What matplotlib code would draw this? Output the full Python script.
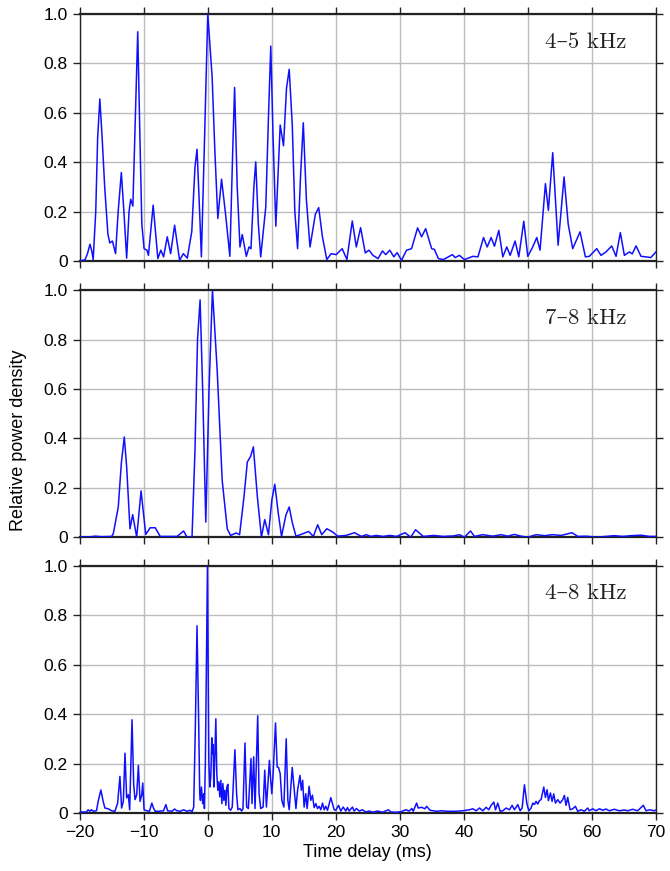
import matplotlib
matplotlib.use("Agg")
import matplotlib.pyplot as plt

# panel 1: 4-5 kHz
t_45 = [-20.0, -19.2, -18.8, -18.4, -18.1, -17.9, -17.5, -17.2, -16.86, -16.5, -16.1, -15.6, -15.3,
        -14.9, -14.4, -14.0, -13.5, -13.1, -12.67, -12.3, -12.04, -11.7, -11.4, -10.94, -10.6, -10.3,
        -9.95, -9.5, -9.27, -8.53, -7.8, -7.33, -6.9, -6.33, -5.8, -5.18, -4.4, -3.82, -3.2, -2.5,
        -2.0, -1.68, -1.35, -1.0, -0.5, 0.0, 0.68, 1.1, 1.57, 2.15, 2.77, 3.45, 3.9, 4.19, 4.6, 5.03,
        5.39, 6.02, 6.44, 6.75, 7.2, 7.49, 7.9, 8.27, 9.06, 9.5, 9.84, 10.2, 10.63, 11.31, 11.83,
        12.3, 12.72, 13.2, 13.6, 14.03, 14.5, 14.92, 15.4, 15.97, 16.8, 17.33, 17.9, 18.59, 19.27,
        20.05, 21.0, 21.73, 22.57, 23.2, 23.87, 24.6, 25.18, 25.8, 26.6, 27.28, 27.8, 28.43, 29.06,
        29.58, 30.26, 31.05, 31.83, 32.77, 33.4, 34.03, 34.97, 35.4, 36.02, 36.8, 38.22, 38.64,
        39.3, 40.1, 41.4, 42.2, 43.07, 43.64, 44.26, 44.78, 45.46, 46.08, 46.7, 47.23, 48.0, 48.58,
        49.36, 49.98, 50.7, 51.39, 51.9, 52.74, 53.2, 53.88, 54.72, 55.65, 56.3, 57.0, 58.15, 58.98,
        59.6, 60.75, 61.42, 62.2, 63.1, 63.77, 64.44, 65.07, 65.85, 66.3, 66.9, 67.67, 68.44, 69.2,
        70.0]
p_45 = [0.003, 0.005, 0.03, 0.069, 0.04, 0.007, 0.2, 0.5, 0.656, 0.5, 0.3, 0.11, 0.074,
        0.082, 0.031, 0.2, 0.359, 0.2, 0.013, 0.2, 0.251, 0.223, 0.5, 0.928, 0.5, 0.15,
        0.051, 0.045, 0.024, 0.227, 0.011, 0.045, 0.018, 0.099, 0.031, 0.146, 0.004, 0.031, 0.013, 0.12,
        0.38, 0.453, 0.25, 0.018, 0.5, 1.0, 0.746, 0.45, 0.173, 0.332, 0.193, 0.02, 0.45, 0.703, 0.3, 0.058,
        0.108, 0.02, 0.058, 0.051, 0.3, 0.402, 0.15, 0.018, 0.22, 0.6, 0.87, 0.5, 0.142, 0.551, 0.467,
        0.7, 0.776, 0.55, 0.2, 0.051, 0.35, 0.56, 0.25, 0.058, 0.19, 0.217, 0.1, 0.007, 0.031,
        0.027, 0.051, 0.007, 0.163, 0.058, 0.136, 0.034, 0.045, 0.024, 0.011, 0.042, 0.027, 0.045, 0.018,
        0.035, 0.004, 0.045, 0.051, 0.135, 0.099, 0.132, 0.051, 0.048, 0.011, 0.007, 0.027, 0.015,
        0.024, 0.007, 0.02, 0.018, 0.096, 0.058, 0.096, 0.061, 0.125, 0.018, 0.058, 0.024, 0.082, 0.018,
        0.162, 0.02, 0.055, 0.096, 0.045, 0.314, 0.206, 0.439, 0.065, 0.341, 0.15, 0.051, 0.119, 0.018,
        0.02, 0.051, 0.024, 0.038, 0.062, 0.02, 0.116, 0.024, 0.038, 0.03, 0.062, 0.02, 0.018, 0.015,
        0.038]

# panel 2: 7-8 kHz
t_78 = [-20.0, -18.5, -17.6, -16.6, -15.0, -14.76, -13.98, -13.5, -13.04, -12.67, -12.15, -11.73,
        -11.1, -10.42, -9.69, -9.0, -8.2, -7.43, -6.1, -4.8, -3.77, -3.25, -2.46, -2.0, -1.6, -1.2,
        -0.8, -0.31, 0.2, 0.73, 1.47, 2.25, 3.04, 3.56, 4.45, 4.97, 5.65, 6.18, 6.7, 7.12, 7.75,
        8.38, 8.9, 9.48, 10.0, 10.47, 11.0, 11.52, 12.2, 12.72, 13.2, 13.77, 14.55, 15.76, 16.49,
        17.17, 17.8, 18.6, 19.5, 20.3, 21.6, 22.93, 23.98, 24.76, 25.5, 26.3, 27.38, 28.43, 29.5,
        30.8, 31.7, 32.46, 33.66, 35.24, 36.8, 38.4, 39.3, 40.1, 41.04, 41.66, 42.96, 44.5, 45.8,
        46.86, 47.9, 48.94, 50.0, 51.3, 52.6, 53.9, 55.2, 56.9, 57.8, 59.1, 60.65, 62.2, 63.5,
        64.8, 66.1, 67.66, 68.97, 70.0]
p_78 = [0.002, 0.002, 0.005, 0.003, 0.004, 0.015, 0.123, 0.3, 0.406, 0.285, 0.035, 0.092,
        0.001, 0.188, 0.012, 0.039, 0.039, 0.004, 0.004, 0.004, 0.026, 0.001, 0.002, 0.35, 0.8, 0.96,
        0.6, 0.062, 0.6, 1.0, 0.676, 0.231, 0.035, 0.008, 0.018, 0.011, 0.163, 0.305, 0.328, 0.366, 0.163,
        0.001, 0.072, 0.011, 0.15, 0.215, 0.1, 0.004, 0.09, 0.123, 0.06, 0.005, 0.012, 0.024, 0.004,
        0.051, 0.011, 0.035, 0.022, 0.005, 0.008, 0.019, 0.004, 0.011, 0.004, 0.008, 0.004, 0.008, 0.004,
        0.019, 0.001, 0.031, 0.004, 0.008, 0.004, 0.006, 0.011, 0.001, 0.026, 0.004, 0.011, 0.005, 0.011,
        0.005, 0.012, 0.005, 0.001, 0.011, 0.007, 0.011, 0.008, 0.019, 0.004, 0.005, 0.001, 0.004, 0.007,
        0.004, 0.007, 0.009, 0.004, 0.004]

# panel 3: 4-8 kHz
t_48 = [-20.0, -18.95, -18.69, -18.43, -18.17, -17.91, -17.38, -17.12, -16.7, -16.34, -16.07, -15.55,
        -15.03, -14.5, -14.08, -13.72, -13.46, -13.19, -12.93, -12.67, -12.41, -12.2, -11.83, -11.57,
        -11.36, -11.1, -10.84, -10.58, -10.31, -10.16, -9.95, -9.53, -9.11, -8.74, -8.48, -8.22, -7.7,
        -6.91, -6.54, -6.28, -5.6, -5.18, -4.82, -4.29, -3.77, -3.25, -2.72,
        -2.46, -2.2, -1.94, -1.68, -1.41, -1.26, -1.15, -0.99, -0.79, -0.63, -0.52, -0.37, -0.05, 0.16,
        0.31, 0.47, 0.63, 0.73, 0.84, 0.94, 1.05, 1.26, 1.41, 1.57, 1.73, 1.88, 2.04, 2.2, 2.36, 2.51,
        2.67, 2.83, 2.98, 3.14, 3.3, 3.56, 3.82, 4.24, 4.5, 4.71, 5.03, 5.29, 5.5, 5.81, 6.07, 6.34,
        6.75, 6.91, 7.17, 7.38, 7.8, 8.01, 8.27, 8.64, 8.9, 9.16, 9.63, 9.79, 10.0, 10.21, 10.58, 10.84,
        11.05, 11.31, 11.57, 11.88, 12.25, 12.51, 12.72, 13.19, 13.51, 13.77, 14.03, 14.4, 14.61, 14.82,
        15.05, 15.31, 15.52, 15.83, 16.09, 16.35, 16.61, 16.88, 17.14, 17.4, 17.66, 17.92, 18.18, 18.44,
        18.7, 19.22, 19.48, 19.74, 20.0, 20.42, 20.78, 21.15, 21.56, 21.82, 22.08, 22.6, 22.86, 23.23,
        23.65, 24.17, 24.69, 25.21, 25.73, 26.51, 27.29, 28.23, 28.59, 29.38, 30.16, 30.94, 31.46, 31.88,
        32.09, 32.62, 32.88, 33.4, 33.93, 34.19, 34.71, 35.24, 35.76, 36.54, 37.33,
        38.8, 39.84, 40.88, 41.4, 41.92, 42.44, 42.96, 43.48, 43.9, 44.26, 44.68, 44.94, 45.3, 45.67,
        46.08, 46.6, 47.12, 47.54, 47.9, 48.42, 48.79, 49.1, 49.46, 49.83, 50.14, 50.5, 50.76, 51.02,
        51.28, 51.54, 51.8, 52.06, 52.48, 52.74, 53.0, 53.21, 53.52, 53.78, 54.04, 54.3, 54.66, 55.03,
        55.44, 55.7, 55.96, 56.22, 56.59, 57.0, 57.42, 57.78, 58.3, 58.82, 59.34, 59.6, 60.12, 60.64,
        61.17, 61.69, 62.21, 62.72, 63.5, 64.28, 65.07, 65.59, 66.37, 67.15, 68.03, 68.45, 68.97, 69.75,
        70.0]
p_48 = [0.004, 0.004, 0.013, 0.007, 0.013, 0.007, 0.009, 0.047, 0.093, 0.047, 0.02, 0.017,
        0.009, 0.007, 0.04, 0.148, 0.02, 0.047, 0.242, 0.061, 0.074, 0.013, 0.377, 0.114,
        0.054, 0.074, 0.192, 0.047, 0.074, 0.121, 0.013, 0.009, 0.007, 0.04, 0.02, 0.007, 0.007,
        0.009, 0.034, 0.009, 0.007, 0.016, 0.009, 0.007, 0.013, 0.007, 0.011,
        0.004, 0.024, 0.348, 0.757, 0.348, 0.078, 0.051, 0.105, 0.038, 0.078, 0.018, 0.213, 1.0, 0.213,
        0.105, 0.146, 0.304, 0.24, 0.277, 0.105, 0.186, 0.381, 0.159, 0.092, 0.126, 0.065, 0.132, 0.038, 0.119, 0.051,
        0.092, 0.031, 0.105, 0.116, 0.018, 0.011, 0.024, 0.256, 0.078, 0.013, 0.018, 0.008, 0.018, 0.283, 0.024, 0.018,
        0.22, 0.038, 0.227, 0.018, 0.393, 0.078, 0.018, 0.024, 0.173, 0.024, 0.213, 0.146, 0.078, 0.159, 0.364, 0.186,
        0.184, 0.159, 0.051, 0.024, 0.3, 0.051, 0.013, 0.184, 0.092, 0.018, 0.092, 0.152, 0.092, 0.132,
        0.024, 0.078, 0.018, 0.108, 0.051, 0.072, 0.022, 0.038, 0.018, 0.027, 0.013, 0.04, 0.013, 0.027,
        0.011, 0.062, 0.038, 0.013, 0.011, 0.031, 0.008, 0.024, 0.008, 0.022, 0.008, 0.024, 0.008, 0.018,
        0.008, 0.013, 0.004, 0.008, 0.003, 0.008, 0.003, 0.013, 0.004, 0.003, 0.005, 0.013, 0.008, 0.018,
        0.007, 0.04, 0.02, 0.023, 0.017, 0.027, 0.011, 0.009, 0.007, 0.009, 0.007,
        0.007, 0.009, 0.013, 0.017, 0.009, 0.02, 0.009, 0.023, 0.013, 0.031, 0.044, 0.013, 0.04, 0.007,
        0.009, 0.02, 0.013, 0.031, 0.013, 0.034, 0.009, 0.02, 0.114, 0.04, 0.009, 0.02, 0.04, 0.034,
        0.047, 0.036, 0.05, 0.054, 0.105, 0.063, 0.094, 0.05, 0.081, 0.047, 0.077, 0.04, 0.054, 0.04,
        0.054, 0.071, 0.031, 0.063, 0.013, 0.017, 0.027, 0.007, 0.013, 0.007, 0.02, 0.009, 0.017, 0.009,
        0.017, 0.011, 0.016, 0.009, 0.015, 0.009, 0.012, 0.009, 0.015, 0.009, 0.031, 0.009, 0.013, 0.009,
        0.012]

panels = [(t_45, p_45, "4\u20135 kHz"),
          (t_78, p_78, "7\u20138 kHz"),
          (t_48, p_48, "4\u20138 kHz")]

plt.rcParams['font.family'] = ['Liberation Sans', 'DejaVu Sans']

fig = plt.figure(figsize=(6.7, 8.71), dpi=100)
boxes = [(0.700, 0.984), (0.383, 0.667), (0.0666, 0.3505)]
left, right = 0.119, 0.979

for i, ((t, p, name), (b, top)) in enumerate(zip(panels, boxes)):
    ax = fig.add_axes([left, b, right - left, top - b])
    ax.plot(t, p, color='#1010ff', lw=1.1, zorder=3)
    ax.set_xlim(-20, 70)
    ax.set_ylim(0, 1.0)
    ax.set_xticks(range(-20, 71, 10))
    ax.set_yticks([0, 0.2, 0.4, 0.6, 0.8, 1.0])
    ax.set_yticklabels(['0', '0.2', '0.4', '0.6', '0.8', '1.0'])
    ax.grid(True, color='#bdbdbd', lw=1.0)
    ax.set_axisbelow(True)
    ax.tick_params(direction='out', length=5, width=1, top=True, right=True,
                   labelsize=12.5, color='#222222')
    if i < 2:
        ax.tick_params(labelbottom=False)
    for s in ax.spines.values():
        s.set_color('#222222')
        s.set_linewidth(1.0)
    ax.spines['top'].set_linewidth(1.6)
    ax.spines['bottom'].set_linewidth(1.6)
    ax.text(0.949, 0.864, name, transform=ax.transAxes, ha='right', va='baseline',
            fontsize=16.5, family=['cmr10', 'DejaVu Serif'], color='#222222')
    if i == 2:
        ax.set_xlabel('Time delay (ms)', fontsize=13, labelpad=3)

fig.text(0.028, 0.495, 'Relative power density', rotation=90, ha='center', va='center',
         fontsize=13)

fig.savefig('out.png', dpi=100)
